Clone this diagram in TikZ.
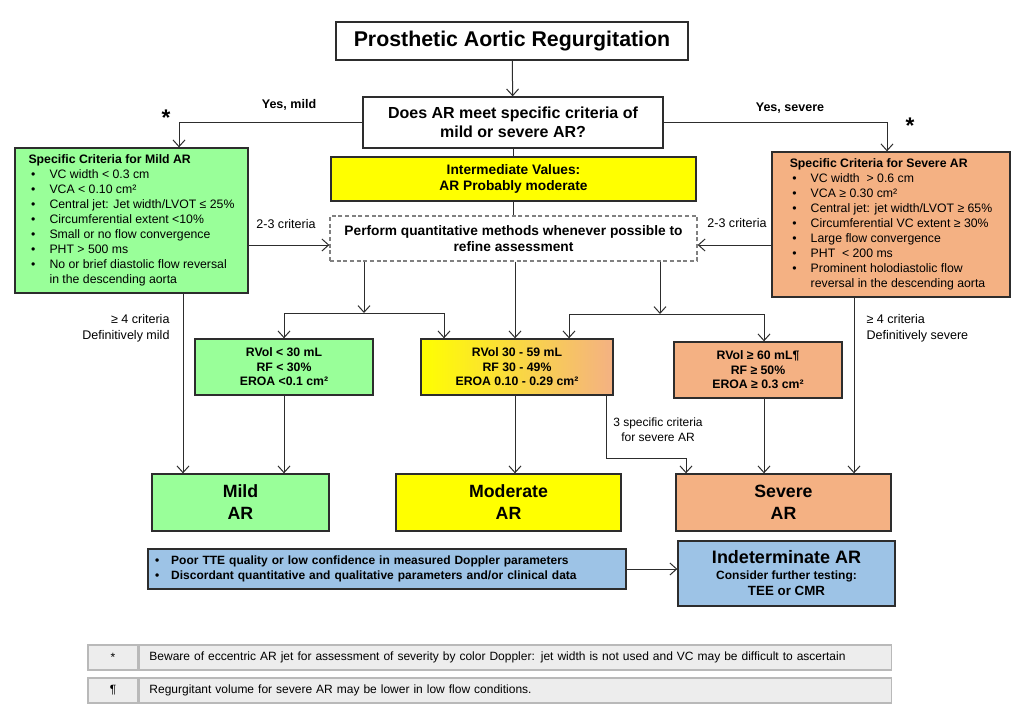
\documentclass[tikz,border=0pt]{standalone}
\usepackage{fontspec}
\setmainfont{Liberation Sans}
\usetikzlibrary{arrows.meta}

\definecolor{mildgreen}{RGB}{153,255,153}
\definecolor{sevorange}{RGB}{244,177,131}
\definecolor{modyellow}{RGB}{255,255,0}
\definecolor{indblue}{RGB}{157,195,230}
\definecolor{notegray}{RGB}{237,237,237}
\definecolor{noteline}{RGB}{185,185,185}
\definecolor{boxline}{RGB}{45,45,45}

\tikzset{every picture/.style={line width=0.75pt}}
\tikzset{
  box/.style={draw=boxline, line width=1pt, inner sep=0pt, align=center, font=\bfseries},
  critlist/.style={box, font=\fontsize{9.2}{11.2}\selectfont},
  arr/.style={draw=boxline, -{Straight Barb[length=5pt,width=9pt]}},
  lbl/.style={inner sep=0.75pt, font=\fontsize{9.4}{12}\selectfont},
  note/.style={draw=noteline, fill=notegray, line width=1.1pt, inner sep=0pt, minimum height=18.75pt, font=\fontsize{9}{10.5}\selectfont},
}
\newcommand{\crititem}{\hspace{2pt}\textbullet}

\begin{document}
\begin{tikzpicture}[x=0.75pt,y=0.75pt,yscale=-1]
%set diagram to 1024 x 711
\path [fill=white] (0,0) rectangle (1024,711);

% Boxes
\node [box, line width=1.5pt, minimum width=264pt, minimum height=28.5pt, font=\fontsize{16}{19}\selectfont\bfseries] (title) at (512,41) {Prosthetic Aortic Regurgitation};
\node [box, minimum width=225pt, minimum height=38.25pt, font=\fontsize{12}{14.5}\selectfont\bfseries] (question) at (513,122.5) {Does AR meet specific criteria of\\mild or severe AR?};
\node [critlist, fill=mildgreen, minimum width=174.75pt, minimum height=108.75pt] (mildcrit) at (131.5,220.5) {%
  \begin{tabular}{@{}l@{\hspace{10.5pt}}l@{}}
  \multicolumn{2}{@{}l@{}}{\textbf{Specific Criteria for Mild AR}}\\
  \crititem & VC width < 0.3 cm\\
  \crititem & VCA < 0.10 cm²\\
  \crititem & Central jet: Jet width/LVOT ≤ 25\%\\
  \crititem & Circumferential extent <10\%\\
  \crititem & Small or no flow convergence\\
  \crititem & PHT > 500 ms\\
  \crititem & No or brief diastolic flow reversal\\
            & in the descending aorta
  \end{tabular}};
\node [critlist, fill=sevorange, minimum width=178.5pt, minimum height=108.75pt] (sevcrit) at (891,224.5) {%
  \begin{tabular}{@{}l@{\hspace{10.5pt}}l@{}}
  \multicolumn{2}{@{}l@{}}{\textbf{Specific Criteria for Severe AR}}\\
  \crititem & VC width \ > 0.6 cm\\
  \crititem & VCA ≥ 0.30 cm²\\
  \crititem & Central jet: jet width/LVOT ≥ 65\%\\
  \crititem & Circumferential VC extent ≥ 30\%\\
  \crititem & Large flow convergence\\
  \crititem & PHT \ < 200 ms\\
  \crititem & Prominent holodiastolic flow\\
            & reversal in the descending aorta
  \end{tabular}};
\node [box, fill=modyellow, minimum width=273.75pt, minimum height=33pt, font=\fontsize{10.3}{12.5}\selectfont\bfseries] (interm) at (513.5,179) {Intermediate Values:\\AR Probably moderate};
\node [box, dash pattern=on 3pt off 2pt, draw=gray, fill=white, minimum width=275.25pt, minimum height=33.75pt, font=\fontsize{10.3}{12.5}\selectfont\bfseries] (quant) at (513.5,238.5) {Perform quantitative methods whenever possible to\\refine assessment};

\node [box, fill=mildgreen, minimum width=133.5pt, minimum height=42pt, font=\fontsize{9.2}{10.9}\selectfont\bfseries] (rvmild) at (284,367) {RVol < 30 mL\\RF < 30\%\\EROA <0.1 cm²};
\node [box, left color=modyellow, right color=sevorange, minimum width=144pt, minimum height=42pt, font=\fontsize{9.2}{10.9}\selectfont\bfseries] (rvmod) at (517,367) {RVol 30 - 59 mL\\RF 30 - 49\%\\EROA 0.10 - 0.29 cm²};
\node [box, fill=sevorange, minimum width=126pt, minimum height=42pt, font=\fontsize{9.2}{10.9}\selectfont\bfseries] (rvsev) at (758,370) {RVol ≥ 60 mL¶\\RF ≥ 50\%\\EROA ≥ 0.3 cm²};

\node [box, fill=mildgreen, minimum width=132.75pt, minimum height=42.75pt, font=\fontsize{13.3}{16.5}\selectfont\bfseries] (mildar) at (240.5,502.5) {Mild\\AR};
\node [box, fill=modyellow, minimum width=168.75pt, minimum height=42.75pt, font=\fontsize{13.3}{16.5}\selectfont\bfseries] (modar) at (508.5,502.5) {Moderate\\AR};
\node [box, fill=sevorange, minimum width=161.25pt, minimum height=42.75pt, font=\fontsize{13.3}{16.5}\selectfont\bfseries] (sevar) at (783.5,502.5) {Severe\\AR};

\node [box, fill=indblue, text width=348pt, inner xsep=5.25pt, align=left, minimum height=30pt, font=\fontsize{9}{10.8}\selectfont\bfseries] (poor) at (387,569) {%
  \begin{tabular}{@{}l@{\hspace{9pt}}l@{}}
  \textbullet & Poor TTE quality or low confidence in measured Doppler parameters\\
  \textbullet & Discordant quantitative and qualitative parameters and/or clinical data
  \end{tabular}};
\node [box, fill=indblue, minimum width=162.75pt, minimum height=48.75pt] (indet) at (786.5,573.5) {{\fontsize{13.5}{16}\selectfont Indeterminate AR}\\{\fontsize{9}{11.5}\selectfont Consider further testing:}\\{\fontsize{10}{12}\selectfont TEE or CMR}};

% Footnotes
\node [note, minimum width=37.5pt] (star) at (113,657.5) {*};
\node [note, anchor=west, text width=549pt, inner xsep=7.5pt, align=left] (beware) at (star.east) {Beware of eccentric AR jet for assessment of severity by color Doppler: jet width is not used and VC may be difficult to ascertain};
\node [note, minimum width=37.5pt] (para) at (113,690.5) {¶};
\node [note, anchor=west, text width=549pt, inner xsep=7.5pt, align=left] (lowflow) at (para.east) {Regurgitant volume for severe AR may be lower in low flow conditions.};

% Text Node
\node [lbl, font=\fontsize{9.4}{12}\selectfont\bfseries] (yesmild) at (289,105) {Yes, mild};
\node [lbl, font=\fontsize{9.4}{12}\selectfont\bfseries] (yessev) at (790,108) {Yes, severe};
\node [lbl, font=\fontsize{17}{17}\selectfont\bfseries] (astmild) at (166,118) {*};
\node [lbl, font=\fontsize{17}{17}\selectfont\bfseries] (astsev) at (910,126) {*};
\node [lbl] (crit23l) at (286,224) {2-3 criteria};
\node [lbl] (crit23r) at (737,223) {2-3 criteria};
\node [lbl, anchor=east, align=right] (defmild) at (171,328) {≥ 4 criteria\\Definitively mild};
\node [lbl, anchor=west, align=left] (defsev) at (865,328) {≥ 4 criteria\\Definitively severe};
\node [lbl, align=center, font=\fontsize{9}{11.3}\selectfont] (crit3lbl) at (658,430) {3 specific criteria\\for severe AR};

% Turning points
\coordinate (mildx) at (179,0);
\coordinate (sevx) at (887,0);
\coordinate (critrow) at (0,245);
\coordinate (lbar) at (364,313);
\coordinate (rbar) at (660,314);
\coordinate (midx) at (515,0);
\coordinate (modl) at (444,0);
\coordinate (modr) at (569,0);
\coordinate (sevr) at (764,0);
\coordinate (mildl) at (183,0);
\coordinate (sevc) at (854,0);
\coordinate (crit3) at (606,458);
\coordinate (sevl) at (686,0);

%Straight Lines
\draw [arr] (title) -- (question);
\draw [arr] (question.west) -| (mildx |- mildcrit.north);
\draw [arr] (question.east) -| (sevx |- sevcrit.north);
\draw [draw=boxline] (question.south) -- (question.south |- interm.north);
\draw [draw=boxline] (interm.south) -- (interm.south |- quant.north);
\draw [arr] (mildcrit.east |- critrow) -- (quant.west |- critrow);
\draw [arr] (sevcrit.west |- critrow) -- (quant.east |- critrow);

\draw [arr] (lbar |- quant.south) -- (lbar);
\draw [arr] (lbar) -| (rvmild.north);
\draw [arr] (lbar) -| (modl |- rvmod.north);
\draw [arr] (midx |- quant.south) -- (midx |- rvmod.north);
\draw [arr] (rbar |- quant.south) -- (rbar);
\draw [arr] (rbar) -| (modr |- rvmod.north);
\draw [arr] (rbar) -| (sevr |- rvsev.north);

\draw [arr] (mildl |- mildcrit.south) -- (mildl |- mildar.north);
\draw [arr] (rvmild.south) -- (rvmild.south |- mildar.north);
\draw [arr] (midx |- rvmod.south) -- (midx |- modar.north);
\draw [arr] (crit3 |- rvmod.south) -- (crit3) -| (sevl |- sevar.north);
\draw [arr] (sevr |- rvsev.south) -- (sevr |- sevar.north);
\draw [arr] (sevc |- sevcrit.south) -- (sevc |- sevar.north);

\draw [arr] (poor.east) -- (poor.east -| indet.west);

\end{tikzpicture}
\end{document}
